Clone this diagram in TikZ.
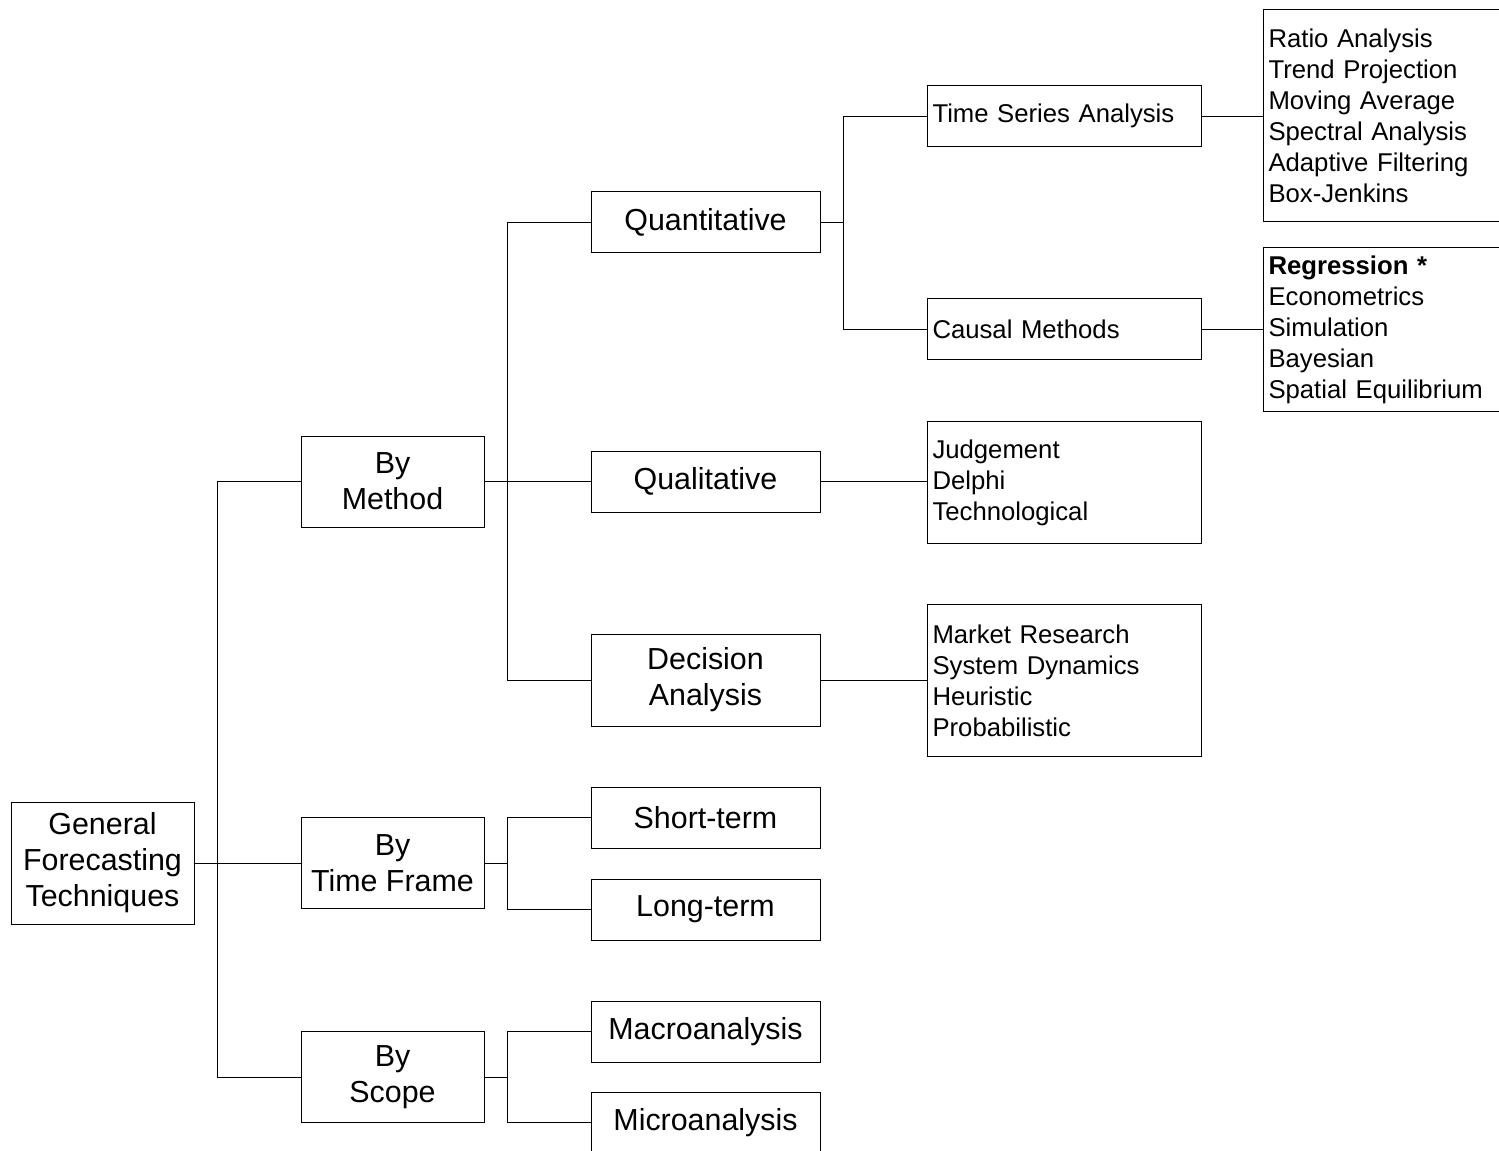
\documentclass[tikz,border=0pt]{standalone}
\usepackage{fontspec}
\setmainfont{Liberation Sans}
\begin{document}
\begin{tikzpicture}[x=0.5pt,y=-0.5pt,
  box/.style={draw, line width=0.5pt, inner sep=0pt, align=center,
    font=\fontsize{15.2}{18}\selectfont},
  listbox/.style={draw, line width=0.5pt, inner xsep=2.5pt, inner ysep=0pt,
    align=left, anchor=north west, font=\fontsize{12.85}{15.5}\selectfont},
  conn/.style={line width=0.5pt}]
\useasboundingbox (0,0) rectangle (1499,1151);
\clip (0,0) rectangle (1499,1151);
% level 0
\node[box, minimum width=91.5pt, minimum height=61pt] (gen) at (102.5,863) {General\\Forecasting\\Techniques};
% level 1
\node[box, minimum width=91.5pt, minimum height=45.5pt] (meth) at (392.5,481.5) {By\\Method};
\node[box, minimum width=91.5pt, minimum height=45.5pt] (time) at (392.5,863) {By\\Time Frame};
\node[box, minimum width=91.5pt, minimum height=45.5pt] (scope) at (392.5,1077) {By\\Scope};
% level 2
\node[box, minimum width=114.5pt, minimum height=30.5pt] (quant) at (705.5,222) {Quantitative};
\node[box, minimum width=114.5pt, minimum height=30.5pt] (qual) at (705.5,481.5) {Qualitative};
\node[box, minimum width=114.5pt, minimum height=46pt] (dec) at (705.5,680) {Decision\\Analysis};
\node[box, minimum width=114.5pt, minimum height=30.5pt] (short) at (705.5,817.5) {Short-term};
\node[box, minimum width=114.5pt, minimum height=30.5pt] (long) at (705.5,909.5) {Long-term};
\node[box, minimum width=114.5pt, minimum height=30.5pt] (macro) at (705.5,1031.5) {Macroanalysis};
\node[box, minimum width=114.5pt, minimum height=30.5pt] (micro) at (705.5,1122.5) {Microanalysis};
% level 3
\node[listbox, minimum width=137pt, text width=132pt, minimum height=30.5pt] (ts) at (927,85) {Time Series Analysis};
\node[listbox, minimum width=137pt, text width=132pt, minimum height=30.5pt] (causal) at (927,298) {Causal Methods};
\node[listbox, minimum width=137pt, text width=132pt, minimum height=61pt] (judg) at (927,421) {Judgement\\Delphi\\Technological};
\node[listbox, minimum width=137pt, text width=132pt, minimum height=76pt] (mkt) at (927,604) {Market Research\\System Dynamics\\Heuristic\\Probabilistic};
% level 4
\node[listbox, minimum width=130pt, text width=125pt, minimum height=106pt] (ratio) at (1263,9) {Ratio Analysis\\Trend Projection\\Moving Average\\Spectral Analysis\\Adaptive Filtering\\Box-Jenkins};
\node[listbox, minimum width=130pt, text width=125pt, minimum height=82pt] (reg) at (1263,247) {\textbf{Regression *}\\Econometrics\\Simulation\\Bayesian\\Spatial Equilibrium};
% connectors
\draw[conn] (gen.east) -- ++(23,0) |- (meth.west);
\draw[conn] (gen.east) -- (time.west);
\draw[conn] (gen.east) -- ++(23,0) |- (scope.west);
\draw[conn] (meth.east) -- ++(23,0) |- (quant.west);
\draw[conn] (meth.east) -- (qual.west);
\draw[conn] (meth.east) -- ++(23,0) |- (dec.west);
\draw[conn] (time.east) -- ++(23,0) |- (short.west);
\draw[conn] (time.east) -- ++(23,0) |- (long.west);
\draw[conn] (scope.east) -- ++(23,0) |- (macro.west);
\draw[conn] (scope.east) -- ++(23,0) |- (micro.west);
\draw[conn] (quant.east) -- ++(23,0) |- (ts.west);
\draw[conn] (quant.east) -- ++(23,0) |- (causal.west);
\draw[conn] (qual.east) -- (judg.west |- qual.east);
\draw[conn] (dec.east) -- (mkt.west |- dec.east);
\draw[conn] (ts.east) -- (ratio.west |- ts.east);
\draw[conn] (causal.east) -- (reg.west |- causal.east);
\end{tikzpicture}
\end{document}
